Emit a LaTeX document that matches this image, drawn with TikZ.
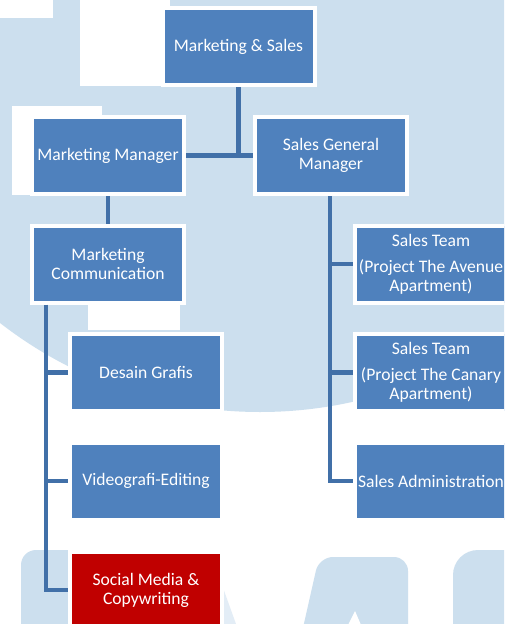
\documentclass[tikz,border=0pt]{standalone}
\usepackage{fontspec}
\setmainfont{Carlito}
\definecolor{bgblue}{HTML}{CCDFEE}
\definecolor{boxblue}{HTML}{4F81BD}
\definecolor{lineblue}{HTML}{4170A8}
\definecolor{boxred}{HTML}{C00000}
\begin{document}
\begin{tikzpicture}[x=1pt,y=-1pt,
  orgbox/.style={draw=white, line width=4pt, fill=boxblue, minimum width=152pt,
    minimum height=77pt, inner sep=0pt, align=center, text=white,
    font=\fontsize{17.6}{19}\selectfont},
  redbox/.style={orgbox, fill=boxred},
  conn/.style={draw=lineblue, line width=4.5pt}]
\useasboundingbox (0,0) rectangle (504,624);
\clip (0,0) rectangle (504,624);
% watermark background
\fill[white] (0,0) rectangle (504,624);
\fill[bgblue] (260,-12) circle (424pt);
\fill[white] (0,0) rectangle (53,18);
\fill[white] (80,0) rectangle (170,86);
\fill[white] (12,106) rectangle (102,195);
\fill[white] (88,298) rectangle (180,330);
\fill[bgblue, rounded corners=15pt] (21,650) -- (21,550) -- (100,550) -- (100,650) -- cycle;
\fill[bgblue!55] (222,585) -- (236,624) -- (222,624) -- cycle;
\fill[bgblue, rounded corners=14pt] (298,650) -- (319,557) -- (408,557) -- (408,650) -- cycle;
\fill[white] (348,625) -- (355,611) -- (361,625) -- cycle;
\fill[bgblue, rounded corners=25pt] (453,650) -- (453,550) -- (540,550) -- (540,650) -- cycle;
% boxes
\node[orgbox] (ms)  at (238.5,46.5) {Marketing \& Sales};
\node[orgbox] (mm)  at (108,155.5)  {Marketing Manager};
\node[orgbox] (sgm) at (331,155.5)  {Sales General\\Manager};
\node[orgbox] (mc)  at (108,264)    {Marketing\\Communication};
\node[orgbox] (st1) at (431,264)    {Sales Team\\[7pt](Project The Avenue\\Apartment)};
\node[orgbox] (dg)  at (146,372.5)  {Desain Grafis};
\node[orgbox] (st2) at (431,372.5)  {Sales Team\\[7pt](Project The Canary\\Apartment)};
\node[orgbox] (ve)  at (146,481)    {Videografi-Editing};
\node[orgbox] (sa)  at (431,481)    {Sales Administration};
\node[redbox] (sm)  at (146,590)    {Social Media \&\\Copywriting};
% connectors
\coordinate (lb) at (46,0);
\coordinate (rb) at (330,0);
\draw[conn] (ms.south) -- (ms.south |- mm.east);
\draw[conn] (mm.east) -- (sgm.west);
\draw[conn] (mm.south) -- (mc.north);
\draw[conn] (mc.south -| lb) |- (sm.west);
\draw[conn] (lb |- dg.west) -- (dg.west);
\draw[conn] (lb |- ve.west) -- (ve.west);
\draw[conn] (sgm.south -| rb) |- (sa.west);
\draw[conn] (rb |- st1.west) -- (st1.west);
\draw[conn] (rb |- st2.west) -- (st2.west);
\end{tikzpicture}
\end{document}
